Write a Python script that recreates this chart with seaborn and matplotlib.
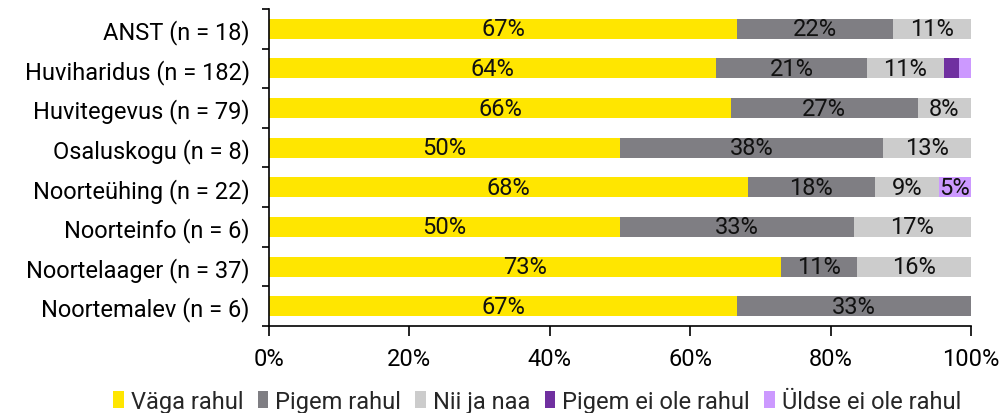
import numpy as np
import pandas as pd
import seaborn as sns
import matplotlib.pyplot as plt
from matplotlib.patches import Patch

# --- DADOS ---
categories = ["ANST (n = 18)", "Huviharidus (n = 182)", "Huvitegevus (n = 79)",
              "Osaluskogu (n = 8)", "Noorteühing (n = 22)", "Noorteinfo (n = 6)",
              "Noortelaager (n = 37)", "Noortemalev (n = 6)"]
series = ["Väga rahul", "Pigem rahul", "Nii ja naa", "Pigem ei ole rahul", "Üldse ei ole rahul"]
vaga_rahul = [66.67, 63.74, 65.82, 50.0, 68.18, 50.0, 72.97, 66.67]
pigem_rahul = [22.22, 21.43, 26.58, 37.5, 18.18, 33.33, 10.81, 33.33]
nii_ja_naa = [11.11, 10.99, 7.59, 12.5, 9.09, 16.67, 16.22, 0.0]
pigem_ei = [0.0, 2.20, 0.0, 0.0, 0.0, 0.0, 0.0, 0.0]
uldse_ei = [0.0, 1.65, 0.0, 0.0, 4.55, 0.0, 0.0, 0.0]
colors = ["#FFE600", "#7F7E83", "#CCCCCC", "#7030A0", "#CC99FF"]

values = np.array([vaga_rahul, pigem_rahul, nii_ja_naa, pigem_ei, uldse_ei])
cum = values.cumsum(axis=0)

sns.set_style("white")
plt.rcParams['font.family'] = ['Roboto', 'DejaVu Sans']
fs = 17

fig = plt.figure(figsize=(10.04, 4.14), dpi=100)
ax = fig.add_axes([0.268, 0.21, 0.699, 0.766])

# kumulatiivsed tulbad, suurimast väiksemani, et saada virnastatud tulbad
for i in range(len(series) - 1, -1, -1):
    df = pd.DataFrame({"kat": categories, "v": cum[i]})
    sns.barplot(data=df, x="v", y="kat", color=colors[i], orient="h",
                width=0.5, saturation=1, ax=ax, edgecolor="none")

# sildid
for i in range(len(series)):
    for j, cat in enumerate(categories):
        v = values[i, j]
        if v >= 4:
            mid = cum[i, j] - v / 2
            ax.text(mid, j, f"{int(v + 0.5)}%", ha="center", va="center",
                    fontsize=fs, color="#111111")

ax.set_xlim(0, 100)
ax.set_ylim(len(categories) - 0.5, -0.5)
ax.set_xticks(np.arange(0, 101, 20))
ax.set_xticklabels([f"{t}%" for t in range(0, 101, 20)])
ax.set_yticks(np.arange(-0.5, len(categories), 1.0), minor=True)
ax.set_xlabel("")
ax.set_ylabel("")
ax.tick_params(axis="x", labelsize=fs, length=7, width=1.2, direction="out",
               bottom=True, colors="black", pad=8)
ax.tick_params(axis="y", which="major", labelsize=fs, length=0, pad=14, colors="black")
ax.tick_params(axis="y", which="minor", length=5, width=1.2, direction="out",
               left=True, colors="black")
for side in ["top", "right"]:
    ax.spines[side].set_visible(False)
for side in ["left", "bottom"]:
    ax.spines[side].set_color("black")
    ax.spines[side].set_linewidth(1.2)

handles = [Patch(facecolor=c, edgecolor="none", label=s) for c, s in zip(colors, series)]
fig.legend(handles=handles, loc="center", bbox_to_anchor=(0.535, 0.028), ncol=5,
           frameon=False, fontsize=fs, handlelength=0.45, handleheight=0.75,
           handletextpad=0.3, columnspacing=0.6)

fig.savefig("out.png", dpi=100)
